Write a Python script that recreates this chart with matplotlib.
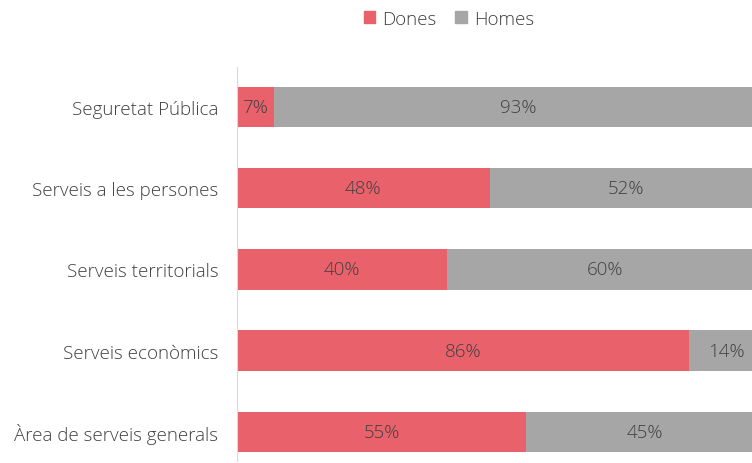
import matplotlib
matplotlib.use("Agg")
import matplotlib.pyplot as plt
from matplotlib.patches import Patch

# ===============================
# DATA
# ===============================
categories = [
    "Àrea de serveis generals",
    "Serveis econòmics",
    "Serveis territorials",
    "Serveis a les persones",
    "Seguretat Pública",
]
dones = [55, 86, 40, 48, 7]
homes = [45, 14, 60, 52, 93]

RED = "#E8616B"
GREY = "#A6A6A6"
TXT = "#404040"
FS = 13.5

plt.rcParams["font.family"] = ["Open Sans", "DejaVu Sans"]

# ===============================
# PLOT
# ===============================
fig = plt.figure(figsize=(7.52, 4.64), dpi=100)
ax = fig.add_axes([237 / 752, 1 - 462 / 464, 1 - 237 / 752, (462 - 68) / 464])

y = list(range(len(categories)))
ax.barh(y, dones, height=0.5, color=RED, edgecolor="none")
ax.barh(y, homes, left=dones, height=0.5, color=GREY, edgecolor="none")

for i in y:
    ax.text(dones[i] / 2, i, f"{dones[i]}%", ha="center", va="center",
            fontsize=FS, color=TXT, fontweight="light")
    ax.text(dones[i] + homes[i] / 2, i, f"{homes[i]}%", ha="center", va="center",
            fontsize=FS, color=TXT, fontweight="light")

ax.set_xlim(0, 97.9)
ax.set_ylim(-0.357, 4.49)
ax.set_yticks(y)
ax.set_yticklabels(categories, fontsize=FS, color=TXT, fontweight="light")
ax.tick_params(axis="y", length=0, pad=13.5)
ax.set_xticks([])

for s in ["top", "right", "bottom"]:
    ax.spines[s].set_visible(False)
ax.spines["left"].set_color("#D9D9D9")
ax.spines["left"].set_linewidth(0.8)

handles = [Patch(color=RED, label="Dones"), Patch(color=GREY, label="Homes")]
fig.legend(handles=handles, loc="center", bbox_to_anchor=(449 / 752, 1 - 20 / 464),
           ncol=2, frameon=False, handlelength=0.6, handleheight=0.6,
           handletextpad=0.4, columnspacing=1.0, labelcolor=TXT,
           prop={"weight": "light", "size": FS})

fig.savefig("out.png", dpi=100)
